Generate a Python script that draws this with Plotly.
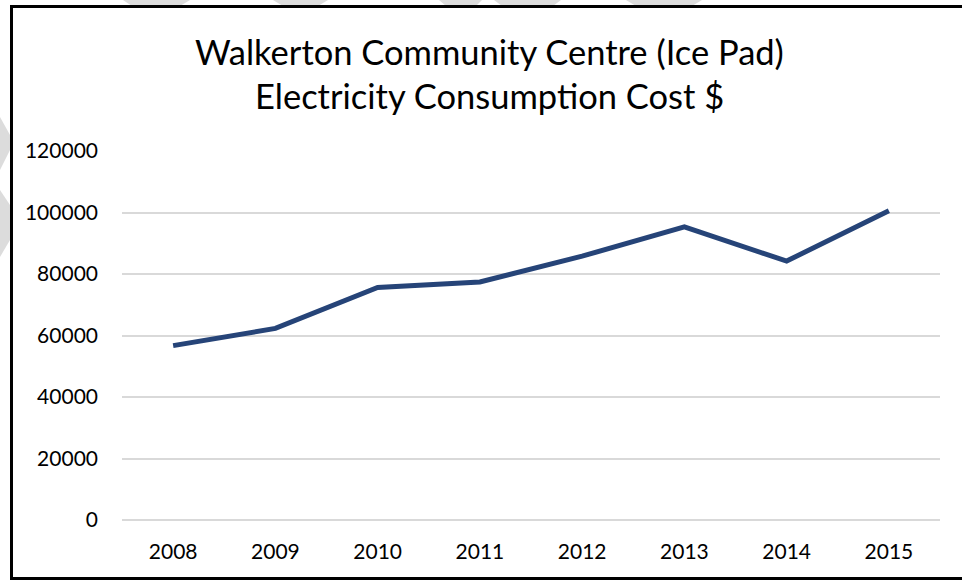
import plotly.graph_objects as go

years = ["2008", "2009", "2010", "2011", "2012", "2013", "2014", "2015"]
cost = [56700, 62300, 75600, 77400, 85800, 95300, 84200, 100600]
y_ticks = [0, 20000, 40000, 60000, 80000, 100000, 120000]
title_lines = ["Walkerton Community Centre (Ice Pad)", "Electricity Consumption Cost $"]

W, H = 962, 582
ML, MR, MT, MB = 122, 22, 151, 62
PW, PH = W - ML - MR, H - MT - MB


def px(x):
    return (x - ML) / PW


def py(y):
    return (H - MB - y) / PH


fig = go.Figure()
fig.add_trace(go.Scatter(
    x=years, y=cost, mode="lines",
    line=dict(color="#264478", width=5),
    hoverinfo="skip", showlegend=False,
))

shapes = []
# faint watermark fragments outside the chart frame
wm = "#dcdcdc"
for (a, b, c, d) in [(123, 190, 132, 180), (273, 328, 283, 318), (439, 482, 446, 476),
                     (494, 561, 502, 553), (626, 702, 636, 692)]:
    shapes.append(dict(type="path", xref="paper", yref="paper",
                       path=f"M {px(a)} {py(0)} L {px(b)} {py(0)} L {px(d)} {py(6)} L {px(c)} {py(6)} Z",
                       fillcolor=wm, line=dict(width=0), layer="below"))
for (t0, t1, t2, t3) in [(117, 135, 150, 170), (190, 205, 240, 257)]:
    shapes.append(dict(type="path", xref="paper", yref="paper",
                       path=f"M {px(0)} {py(t0)} L {px(10)} {py(t1)} L {px(10)} {py(t2)} L {px(0)} {py(t3)} Z",
                       fillcolor=wm, line=dict(width=0), layer="below"))
# chart frame
shapes.append(dict(type="rect", xref="paper", yref="paper",
                   x0=px(11.5), x1=px(W + 5), y0=py(578.5), y1=py(6.5),
                   line=dict(color="black", width=3), fillcolor="rgba(0,0,0,0)", layer="above"))

annotations = [
    dict(text=title_lines[0], xref="paper", yref="paper", x=px(489), y=py(51),
         showarrow=False, xanchor="center", yanchor="middle",
         font=dict(family="Lato", size=34.5, color="black")),
    dict(text=title_lines[1], xref="paper", yref="paper", x=px(489), y=py(96),
         showarrow=False, xanchor="center", yanchor="middle",
         font=dict(family="Lato", size=34.5, color="black")),
]

fig.update_layout(
    width=W, height=H,
    margin=dict(l=ML, r=MR, t=MT, b=MB, pad=0),
    paper_bgcolor="white", plot_bgcolor="white",
    font=dict(family="Lato", size=21, color="black"),
    shapes=shapes, annotations=annotations,
    xaxis=dict(type="category", range=[-0.5, 7.5], showgrid=False, showline=False,
               zeroline=False, ticks="", ticklabelstandoff=17, fixedrange=True),
    yaxis=dict(range=[0, 120000], tickvals=y_ticks, ticktext=[str(v) for v in y_ticks],
               showgrid=True, gridcolor="#d9d9d9", gridwidth=1.5, zeroline=True,
               zerolinecolor="#d9d9d9", zerolinewidth=1.5, showline=False, ticks="",
               ticklabelstandoff=23, fixedrange=True),
)

fig.write_html("out.html", config={"displayModeBar": False})
